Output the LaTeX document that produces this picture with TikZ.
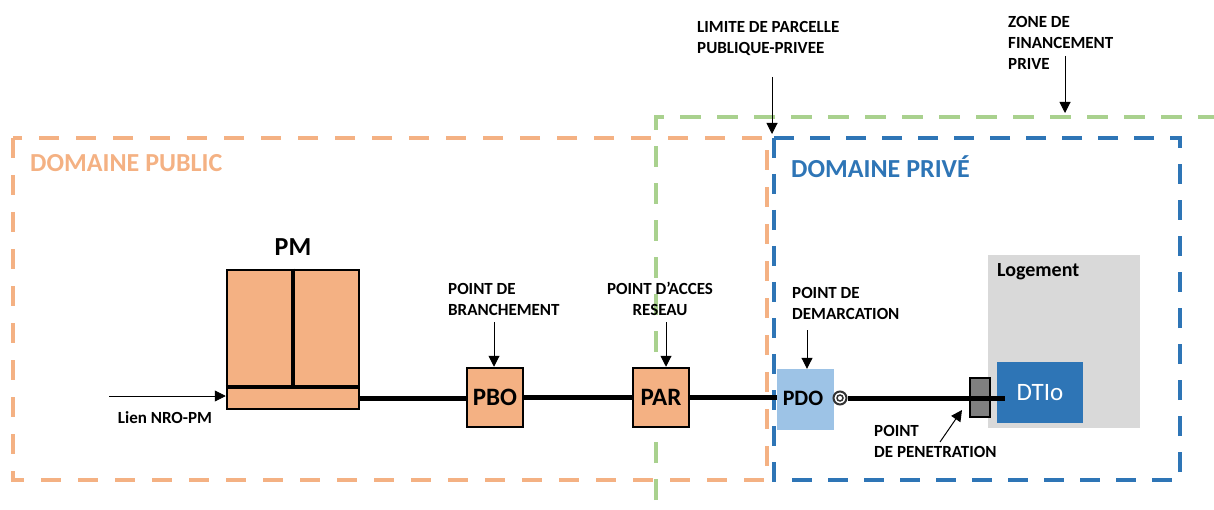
\documentclass[tikz,border=0pt]{standalone}
\usepackage{fontspec}
\setmainfont{Carlito}
\usetikzlibrary{arrows.meta}
\definecolor{orng}{HTML}{F4B183}
\definecolor{blu}{HTML}{2E75B6}
\definecolor{grn}{HTML}{A9D18E}
\definecolor{lblu}{HTML}{9DC3E6}
\definecolor{lgray}{HTML}{D9D9D9}
\definecolor{mgray}{HTML}{7F7F7F}
\begin{document}
\begin{tikzpicture}[x=1pt,y=-1pt,
  frame/.style={line width=4.5pt},
  boxo/.style={draw=black,line width=2.5pt,fill=orng,inner sep=0pt},
  mainline/.style={line width=5pt,black},
  small/.style={font=\fontsize{17}{21}\selectfont\bfseries,inner sep=0pt,align=left},
  big/.style={font=\fontsize{26}{30}\selectfont\bfseries,inner sep=0pt},
  arr/.style={-{Triangle[width=11pt,length=11pt]},line width=1pt},
]
\useasboundingbox (0,0) rectangle (1214,510);
% frames
\draw[frame,orng,dash pattern=on 20pt off 17pt] (13,138) rectangle (767,480);
\draw[frame,blu,dash pattern=on 20pt off 16pt] (774,138) rectangle (1180,480);
\draw[frame,grn,dash pattern=on 21pt off 16pt] (656,500) -- (656,117) -- (1214,117);
\node[big,text=orng,anchor=west] (pub) at (30,163) {DOMAINE PUBLIC};
\node[big,text=blu,anchor=west] (priv) at (791,167) {DOMAINE PRIVÉ};
% PM
\node[boxo,minimum width=132pt,minimum height=139pt] (pm) at (293,339.5) {};
\draw[line width=4pt] ([yshift=23pt]pm.south west) -- ([yshift=23pt]pm.south east);
\draw[line width=4pt] (pm.north) -- ([yshift=23pt]pm.south);
\node[big] (pmlabel) at (293,247) {PM};
\coordinate (nro) at (109,396);
\draw[arr,line width=0.8pt] (nro) -- (nro -| pm.west);
\node[small] (lien) at (165,418) {Lien NRO-PM};
% PBO / PAR
\node[boxo,minimum width=56pt,minimum height=59pt,font=\fontsize{25}{28}\selectfont\bfseries] (pbo) at (495,397.5) {PBO};
\node[boxo,minimum width=56pt,minimum height=59pt,font=\fontsize{25}{28}\selectfont\bfseries] (par) at (661,397.5) {PAR};
% private side
\node[fill=lgray,minimum width=152pt,minimum height=173pt,inner sep=0pt] (log) at (1064,341.5) {};
\node[font=\fontsize{20}{24}\selectfont\bfseries,anchor=west,inner sep=0pt] (loglabel) at (997,272) {Logement};
\node[fill=lblu,minimum width=57pt,minimum height=61pt,inner sep=0pt] (pdo) at (805.5,399.5) {};
\node[font=\fontsize{22}{24}\selectfont\bfseries,inner sep=0pt] (pdotext) at (803,398) {PDO};
\node[draw=black!80,line width=2pt,circle,minimum size=13pt,inner sep=0pt] (spiral) at (840,398) {};
\draw[black!80,line width=1.5pt] (spiral.center) circle (3pt);
\node[fill=mgray,draw=black,line width=1.5pt,minimum width=20pt,minimum height=39pt,inner sep=0pt] (pen) at (980,397.5) {};
\node[fill=blu,minimum width=86pt,minimum height=61pt,inner sep=0pt,text=white,font=\fontsize{25}{28}\selectfont] (dtio) at (1040,392.5) {DTIo};
% main line
\draw[mainline] ([yshift=11.5pt]pm.south east) -- ([yshift=11.5pt]pm.south east -| pbo.west);
\draw[mainline] (pbo.east) -- (par.west);
\draw[mainline] (par.east) -- (par.east -| pdo.west);
\coordinate (lineend) at (1005,398);
\draw[mainline] (spiral.east) -- (lineend);
% labels with arrows
\node[small,anchor=west] (branch) at (448,299) {POINT DE\\BRANCHEMENT};
\draw[arr] (494,322) -- (pbo.north -| 494,0);
\node[small,align=center] (acces) at (660,299) {POINT D’ACCES\\RESEAU};
\draw[arr] (666,322) -- (par.north -| 666,0);
\node[small,anchor=west] (demarc) at (792,303) {POINT DE\\DEMARCATION};
\draw[arr] (807,330) -- (pdo.north -| 807,0);
\node[small,anchor=west] (penet) at (874,441.5) {POINT\\DE PENETRATION};
\coordinate (pentip) at (962,410);
\draw[arr] (940,442) -- (pentip);
\node[small,anchor=west] (limite) at (697,38.5) {LIMITE DE PARCELLE\\PUBLIQUE-PRIVEE};
\coordinate (limtip) at (772,134);
\draw[arr] (772,77) -- (limtip);
\node[small,anchor=west] (zone) at (1008,43) {ZONE DE\\FINANCEMENT\\PRIVE};
\coordinate (zonetip) at (1065,113);
\draw[arr] (1065,56) -- (zonetip);
\end{tikzpicture}
\end{document}
